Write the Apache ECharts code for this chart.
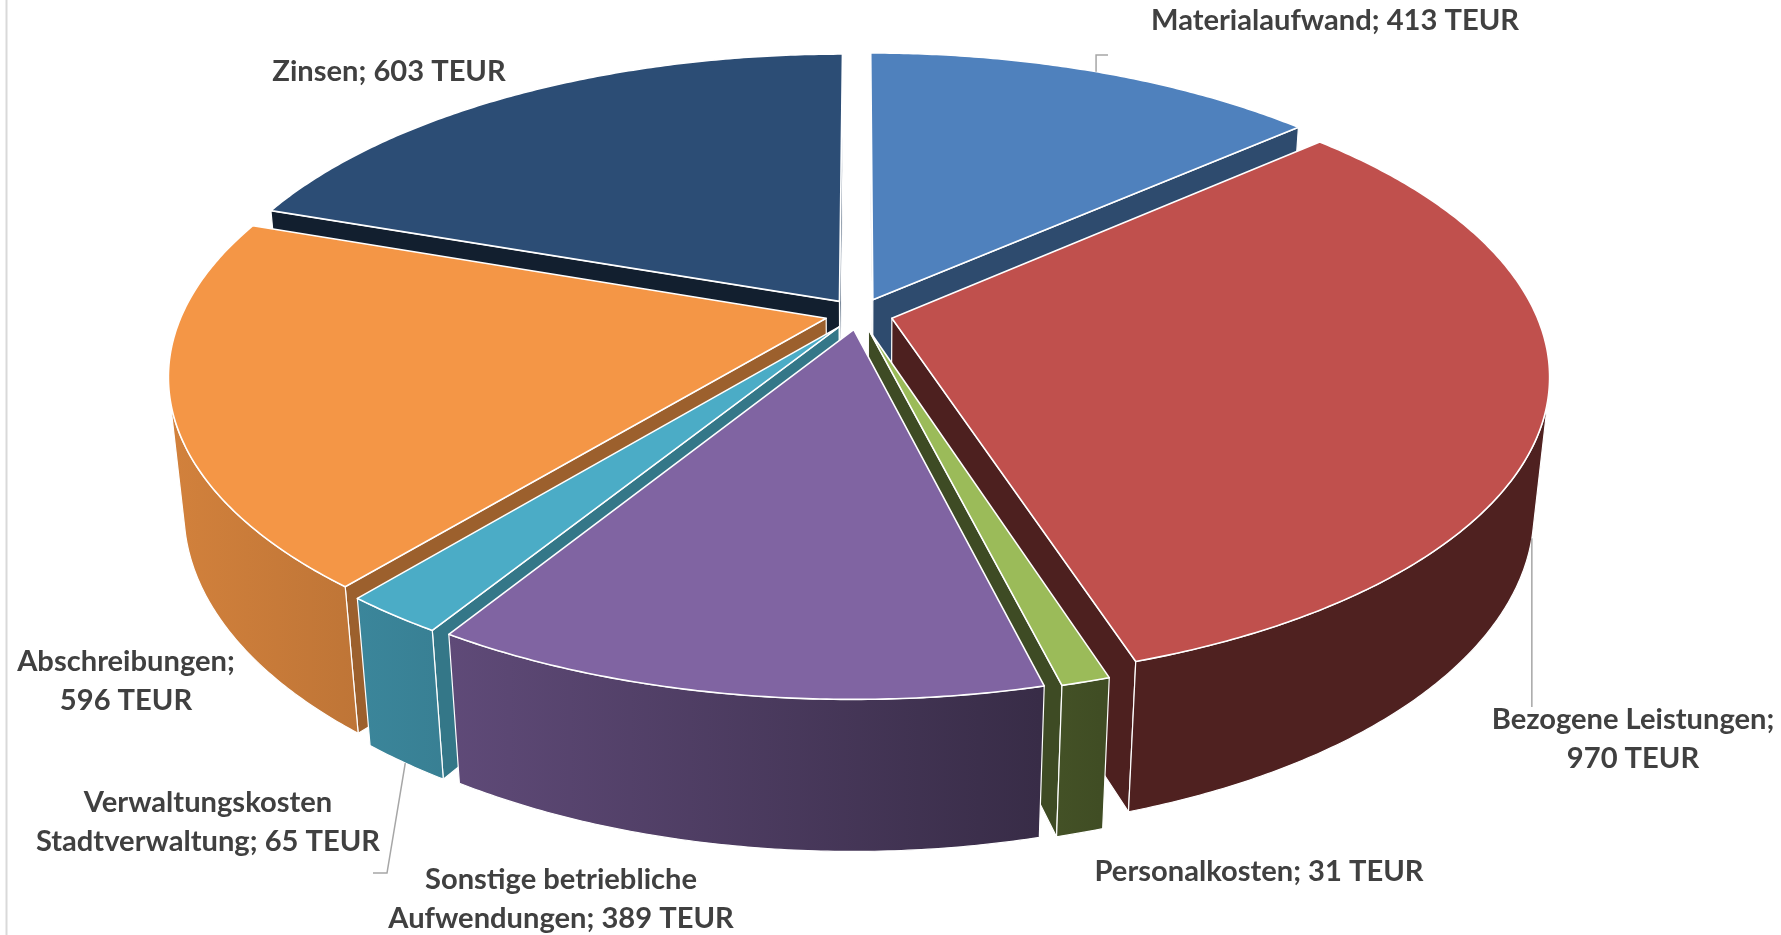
<!DOCTYPE html>
<html><head><meta charset="utf-8">
<script src="https://cdn.jsdelivr.net/npm/echarts@6/dist/echarts.min.js"></script>
<style>html,body{margin:0;padding:0;background:#fff}#c{width:1781px;height:935px}</style>
</head><body><div id="c"></div>
<script>
// ---- data ----
const categories = ['Materialaufwand', 'Bezogene Leistungen', 'Personalkosten', 'Sonstige betriebliche Aufwendungen', 'Verwaltungskosten Stadtverwaltung', 'Abschreibungen', 'Zinsen'];
const values = [413, 970, 31, 389, 65, 596, 603];
const unit = 'TEUR';
const colors = ['#4F81BD', '#C0504D', '#9BBB59', '#8064A2', '#4BACC6', '#F49646', '#2C4D75'];

// ---- label layout (positions only) ----
// brk: null = one line, 'value' = break before value, number = break name after n words
const labelLayout = [
  { x: 1335, y: 21, brk: null, edge: 'top', leader: [[null, 55], [1108, 55]] },
  { x: 1633, y: 739, brk: 'value', edge: 'bottom', leader: [[null, 707]] },
  { x: 1259, y: 872, brk: null, edge: null, leader: null },
  { x: 561, y: 899, brk: 2, edge: null, leader: null },
  { x: 208, y: 822, brk: 1, edge: 'bottom', leader: [[387, 873], [373, 873]] },
  { x: 126, y: 681, brk: 'value', edge: null, leader: null },
  { x: 389, y: 72, brk: null, edge: null, leader: null }
];

// ---- 3D geometry settings ----
const G = { cx: 859, cy: 314, R: 644, H: 152, explode: 34, alpha: 27.4 * Math.PI / 180, D: 3152 };
const SA = Math.sin(G.alpha), CA = Math.cos(G.alpha);
const CamZ = G.D * CA;

const total = values.reduce((a, b) => a + b, 0);
const starts = [];
(function () { let acc = 0; values.forEach(v => { starts.push(acc / total * 2 * Math.PI); acc += v; }); })();

function proj(X, Y, Z) {
  const v = Z * SA - Y * CA;
  const w = Z * CA + Y * SA;
  const k = G.D / (G.D - w);
  return [G.cx + X * k, G.cy + v * k, w];
}
function shade(hex, f) {
  const n = parseInt(hex.slice(1), 16);
  const r = Math.round(((n >> 16) & 255) * f), g = Math.round(((n >> 8) & 255) * f), b = Math.round((n & 255) * f);
  return 'rgb(' + r + ',' + g + ',' + b + ')';
}
function labelText(i) {
  const name = categories[i], val = values[i] + ' ' + unit;
  const b = labelLayout[i].brk;
  if (b === 'value') return name + ';\n' + val;
  if (typeof b === 'number') {
    const w = name.split(' ');
    return w.slice(0, b).join(' ') + '\n' + w.slice(b).join(' ') + '; ' + val;
  }
  return name + '; ' + val;
}

// fit label width to the reference (first label is ~368px wide)
const FONT_FAMILY = 'Lato, "Open Sans", sans-serif';
const FONT_SIZE = 28;
const textScale = (function () {
  const ctx = document.createElement('canvas').getContext('2d');
  ctx.font = 'bold ' + FONT_SIZE + 'px ' + FONT_FAMILY;
  const w = ctx.measureText(labelText(0)).width;
  return w > 0 ? Math.max(0.8, Math.min(1.2, 368 / w)) : 1;
})();

function renderItem(params, api) {
  const i = params.dataIndex;
  const v = api.value(0);
  const a0 = starts[i], a1 = a0 + v / total * 2 * Math.PI, am = (a0 + a1) / 2;
  const ox = G.explode * Math.sin(am), oz = -G.explode * Math.cos(am);
  const rim = (t, Y) => proj(ox + G.R * Math.sin(t), Y, oz - G.R * Math.cos(t));
  const ctr = Y => proj(ox, Y, oz);
  const xy = p => [p[0], p[1]];
  const meanW = pts => pts.reduce((s, p) => s + p[2], 0) / pts.length;
  const children = [];
  const base = colors[i];

  // top face
  const n = Math.max(2, Math.ceil((a1 - a0) / (Math.PI / 360)));
  const top = [ctr(0)];
  for (let k = 0; k <= n; k++) top.push(rim(a0 + (a1 - a0) * k / n, 0));
  children.push({ type: 'polygon', z2: 1000, shape: { points: top.map(xy) },
    style: { fill: base, stroke: '#ffffff', lineWidth: 1.6, lineJoin: 'round' } });

  // outer wall (visible runs)
  const vis = t => {
    const X = ox + G.R * Math.sin(t), Z = oz - G.R * Math.cos(t);
    return Math.sin(t) * (0 - X) + (-Math.cos(t)) * (CamZ - Z) > 0;
  };
  let run = [];
  const flush = () => {
    if (run.length >= 2) {
      const tp = run.map(t => rim(t, 0));
      const bp = run.map(t => rim(t, -G.H)).reverse();
      const pts = tp.concat(bp);
      const grad = new echarts.graphic.LinearGradient(170, 0, 1100, 0, [
        { offset: 0, color: shade(base, 0.86) },
        { offset: 0.3, color: shade(base, 0.74) },
        { offset: 1, color: shade(base, 0.41) }
      ], true);
      children.push({ type: 'polygon', z2: 100 + meanW(pts) / 10, shape: { points: pts.map(xy) },
        style: { fill: grad, stroke: '#ffffff', lineWidth: 1.2, lineJoin: 'round' } });
    }
    run = [];
  };
  for (let k = 0; k <= n; k++) {
    const t = a0 + (a1 - a0) * k / n;
    if (vis(t)) run.push(t); else flush();
  }
  flush();

  // cut faces
  const faceColor = phi => {
    let d = phi * 180 / Math.PI; d = ((d % 360) + 360) % 360;
    let f = 0.7 - (d - 120) * 0.0065;
    f = Math.max(0.4, Math.min(0.75, f));
    return shade(base, f);
  };
  const sVis = (-Math.cos(a0)) * (0 - ox) + (-Math.sin(a0)) * (CamZ - oz) > 0;
  const eVis = (Math.cos(a1)) * (0 - ox) + (Math.sin(a1)) * (CamZ - oz) > 0;
  [[a0, sVis, a0 - Math.PI / 2], [a1, eVis, a1 + Math.PI / 2]].forEach(([a, ok, phi]) => {
    if (!ok) return;
    const pts = [ctr(0), rim(a, 0), rim(a, -G.H), ctr(-G.H)];
    children.push({ type: 'polygon', z2: 100 + meanW(pts) / 10, shape: { points: pts.map(xy) },
      style: { fill: faceColor(phi), stroke: '#ffffff', lineWidth: 1.2, lineJoin: 'round' } });
  });

  // label + leader
  const L = labelLayout[i];
  if (L.leader) {
    const anc = rim(am, L.edge === 'top' ? 0 : -G.H);
    const pts = [[anc[0], anc[1]]].concat(L.leader.map(p => [p[0] === null ? anc[0] : p[0], p[1]]));
    children.push({ type: 'polyline', z2: 1500, shape: { points: pts },
      style: { stroke: '#A6A6A6', lineWidth: 1.5, fill: null } });
  }
  children.push({ type: 'text', z2: 2000, x: L.x, y: L.y, scaleX: textScale, style: {
    text: labelText(i), x: 0, y: 0, align: 'center', verticalAlign: 'middle',
    fontFamily: FONT_FAMILY, fontWeight: 'bold',
    fontSize: FONT_SIZE, lineHeight: 39, fill: '#404040' } });

  return { type: 'group', children: children };
}

const chart = echarts.init(document.getElementById('c'), null, { renderer: 'canvas' });
chart.setOption({
  animation: false,
  backgroundColor: '#ffffff',
  graphic: [{ type: 'line', shape: { x1: 6.5, y1: 0, x2: 6.5, y2: 935 }, style: { stroke: '#D9D9D9', lineWidth: 2 }, silent: true }],
  series: [{
    type: 'custom',
    coordinateSystem: 'none',
    silent: true,
    renderItem: renderItem,
    data: values.map((v, i) => ({ name: categories[i], value: [v] }))
  }]
});
</script>
</body></html>
